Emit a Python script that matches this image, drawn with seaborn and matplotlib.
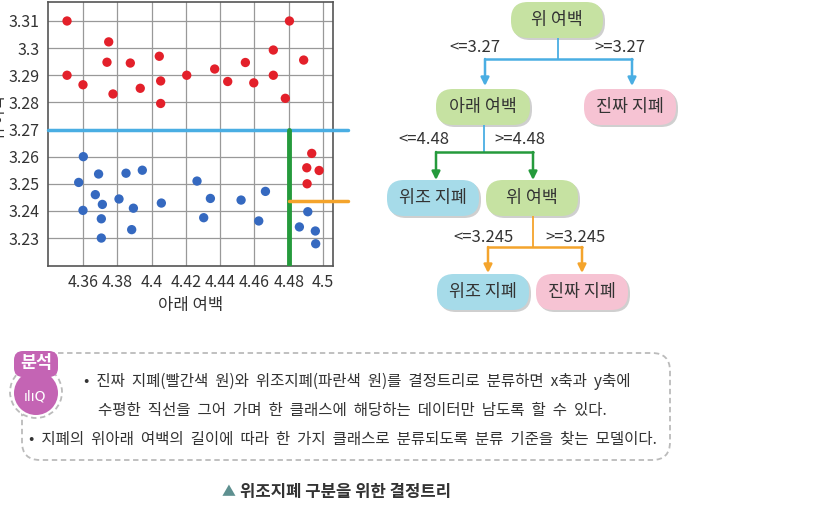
import numpy as np
import pandas as pd
import matplotlib
matplotlib.use("Agg")
import matplotlib.pyplot as plt
import seaborn as sns
from matplotlib.patches import FancyBboxPatch, Circle

# ── data ─────────────────────────────────────────────
red_x = [4.3507, 4.3507, 4.360, 4.375, 4.374, 4.3775, 4.3876, 4.3934, 4.4045, 4.4053,
         4.4053, 4.4205, 4.4368, 4.4444, 4.4547, 4.4596, 4.471, 4.471, 4.478, 4.4804,
         4.4887, 4.4934, 4.4905, 4.4977, 4.4907]
red_y = [3.310, 3.290, 3.2865, 3.3023, 3.2948, 3.2831, 3.2945, 3.2852, 3.297, 3.2879,
         3.2796, 3.290, 3.2923, 3.2877, 3.2947, 3.2872, 3.2993, 3.290, 3.2815, 3.310,
         3.2956, 3.2612, 3.2559, 3.2549, 3.250]
blue_x = [4.3602, 4.3575, 4.3691, 4.360, 4.3672, 4.3713, 4.3707, 4.3707, 4.381, 4.3851,
          4.3894, 4.3946, 4.3884, 4.4057, 4.4265, 4.4304, 4.4343, 4.4522, 4.4625, 4.4664,
          4.4911, 4.4862, 4.4955, 4.4957]
blue_y = [3.260, 3.2505, 3.2536, 3.2402, 3.246, 3.2424, 3.2371, 3.230, 3.2444, 3.2539,
          3.241, 3.255, 3.2331, 3.2429, 3.251, 3.2375, 3.2446, 3.244, 3.2363, 3.2472,
          3.2397, 3.2341, 3.2326, 3.2279]
x_ticks = [4.36, 4.38, 4.4, 4.42, 4.44, 4.46, 4.48, 4.5]
x_labels = ["4.36", "4.38", "4.4", "4.42", "4.44", "4.46", "4.48", "4.5"]
y_ticks = [3.23, 3.24, 3.25, 3.26, 3.27, 3.28, 3.29, 3.3, 3.31]
y_labels = ["3.23", "3.24", "3.25", "3.26", "3.27", "3.28", "3.29", "3.3", "3.31"]
split_top, split_mid, split_low = 3.27, 4.48, 3.2437

df = pd.DataFrame({
    "x": red_x + blue_x,
    "y": red_y + blue_y,
    "kind": ["real"] * len(red_x) + ["fake"] * len(blue_x),
})

sns.set_style("white")
plt.rcParams["font.family"] = ["Noto Sans CJK KR", "DejaVu Sans"]
TXT = "#333333"
BLUE_L, GREEN_L, ORANGE_L = "#4aaee3", "#259a3c", "#f4a42c"

fig = plt.figure(figsize=(8.2, 5.2), dpi=100)

# ── scatter ──────────────────────────────────────────
ax = fig.add_axes([48 / 820, 1 - 266 / 520, 285 / 820, 264 / 520])
sns.scatterplot(data=df, x="x", y="y", hue="kind",
                palette={"real": "#e3202a", "fake": "#3569c0"},
                s=45, edgecolor="none", legend=False, ax=ax, zorder=3)
ax.set_xlim(4.3396, 4.5058)
ax.set_ylim(3.2197, 3.317)
ax.set_xticks(x_ticks)
ax.set_xticklabels(x_labels)
ax.set_yticks(y_ticks)
ax.set_yticklabels(y_labels)
ax.grid(True, color="#999999", lw=0.9)
ax.tick_params(length=0, labelsize=11.5, labelcolor=TXT, pad=6)
for sp in ax.spines.values():
    sp.set_color("#555555")
    sp.set_linewidth(1.2)
ax.set_xlabel("아래 여백", fontsize=12, color=TXT, labelpad=4)
ax.set_ylabel("")
# y label sits mostly off the left edge, as in the reference
fig.text(-9 / 820, 1 - 118 / 520, "위 여백", rotation=90, fontsize=11,
         color=TXT, ha="left", va="center")

ax.plot([ax.get_xlim()[0], 4.5145], [split_top, split_top], color=BLUE_L,
        lw=2.5, clip_on=False, zorder=4)
ax.plot([split_mid, split_mid], [split_top, ax.get_ylim()[0]], color=GREEN_L,
        lw=3.5, zorder=4)
ax.plot([split_mid, 4.5145], [split_low, split_low], color=ORANGE_L,
        lw=2.5, clip_on=False, zorder=4)

# ── overlay in pixel coords ──────────────────────────
ov = fig.add_axes([0, 0, 1, 1])
ov.set_xlim(0, 820)
ov.set_ylim(520, 0)
ov.axis("off")

GREEN_N, PINK_N, CYAN_N = "#c6e2a2", "#f6c3d3", "#a6dbe9"


def node(cx, cy, label, fc, w=88, h=36):
    ov.add_patch(FancyBboxPatch((cx - w / 2 + 2, cy - h / 2 + 2), w, h,
                                boxstyle="round,pad=0,rounding_size=17",
                                fc="#cfcfcf", ec="none", zorder=1))
    ov.add_patch(FancyBboxPatch((cx - w / 2, cy - h / 2), w, h,
                                boxstyle="round,pad=0,rounding_size=17",
                                fc=fc, ec="none", zorder=2))
    ov.text(cx, cy, label, ha="center", va="center", fontsize=12.5,
            color=TXT, zorder=3)


def branch(px, y0, ymid, xl, xr, y1, stem, color):
    ov.plot([px, px], [y0, ymid], color=stem, lw=1.3)
    ov.plot([xl, xr], [ymid, ymid], color=color, lw=1.8)
    for xx in (xl, xr):
        ov.annotate("", xy=(xx, y1), xytext=(xx, ymid),
                    arrowprops=dict(arrowstyle="-|>", color=color, lw=1.8,
                                    mutation_scale=12, shrinkA=0, shrinkB=0))


branch(558, 38, 59, 485, 632, 86, BLUE_L, BLUE_L)
branch(484, 125, 152, 436, 533, 180, BLUE_L, GREEN_L)
branch(533, 216, 247, 488, 582, 273, ORANGE_L, ORANGE_L)

node(557, 20, "위 여백", GREEN_N, w=92)
node(483, 107, "아래 여백", GREEN_N, w=94)
node(630, 107, "진짜 지폐", PINK_N, w=92)
node(433, 198, "위조 지폐", CYAN_N, w=92)
node(532, 198, "위 여백", GREEN_N, w=92)
node(483, 292, "위조 지폐", CYAN_N, w=92)
node(582, 292, "진짜 지폐", PINK_N, w=92)

lab = dict(fontsize=12, color=TXT, va="center")
ov.text(449, 47, "<=3.27", ha="left", **lab)
ov.text(594, 47, ">=3.27", ha="left", **lab)
ov.text(398, 139, "<=4.48", ha="left", **lab)
ov.text(494, 139, ">=4.48", ha="left", **lab)
ov.text(453, 237, "<=3.245", ha="left", **lab)
ov.text(545, 237, ">=3.245", ha="left", **lab)

# ── analysis box ─────────────────────────────────────
ov.add_patch(FancyBboxPatch((22, 353), 648, 107,
                            boxstyle="round,pad=0,rounding_size=18",
                            fc="white", ec="#bbbbbb", lw=1.3, ls=(0, (3, 2)),
                            zorder=1))
ov.add_patch(Circle((36, 392), 26, fc="white", ec="#bbbbbb", lw=1.3,
                    ls=(0, (3, 2)), zorder=2))
ov.add_patch(FancyBboxPatch((14, 351), 44, 26,
                            boxstyle="round,pad=0,rounding_size=9",
                            fc="#c464b4", ec="none", zorder=3))
ov.add_patch(Circle((36, 393), 22, fc="#c464b4", ec="none", zorder=3))
ov.text(36, 363, "분석", ha="center", va="center", fontsize=12.5,
        fontweight="bold", color="white", zorder=4)
ov.text(35, 397, "ılıQ", ha="center", va="center", fontsize=10,
        color="white", zorder=4, family=["DejaVu Sans"])

body = dict(fontsize=11.2, color=TXT, va="center")
ov.text(84, 381, "•  진짜  지폐(빨간색  원)와  위조지폐(파란색  원)를  결정트리로  분류하면  x축과  y축에",
        ha="left", **body)
ov.text(98, 410, "수평한  직선을  그어  가며  한  클래스에  해당하는  데이터만  남도록  할  수  있다.",
        ha="left", **body)
ov.text(29, 439, "•  지폐의  위아래  여백의  길이에  따라  한  가지  클래스로  분류되도록  분류  기준을  찾는  모델이다.",
        ha="left", **body)

ov.text(222, 492, "▲", ha="left", va="center", fontsize=10, color="#5e9090")
ov.text(240, 492, "위조지폐 구분을 위한 결정트리", ha="left", va="center",
        fontsize=12, fontweight="bold", color=TXT)

fig.savefig("out.png", dpi=100)
